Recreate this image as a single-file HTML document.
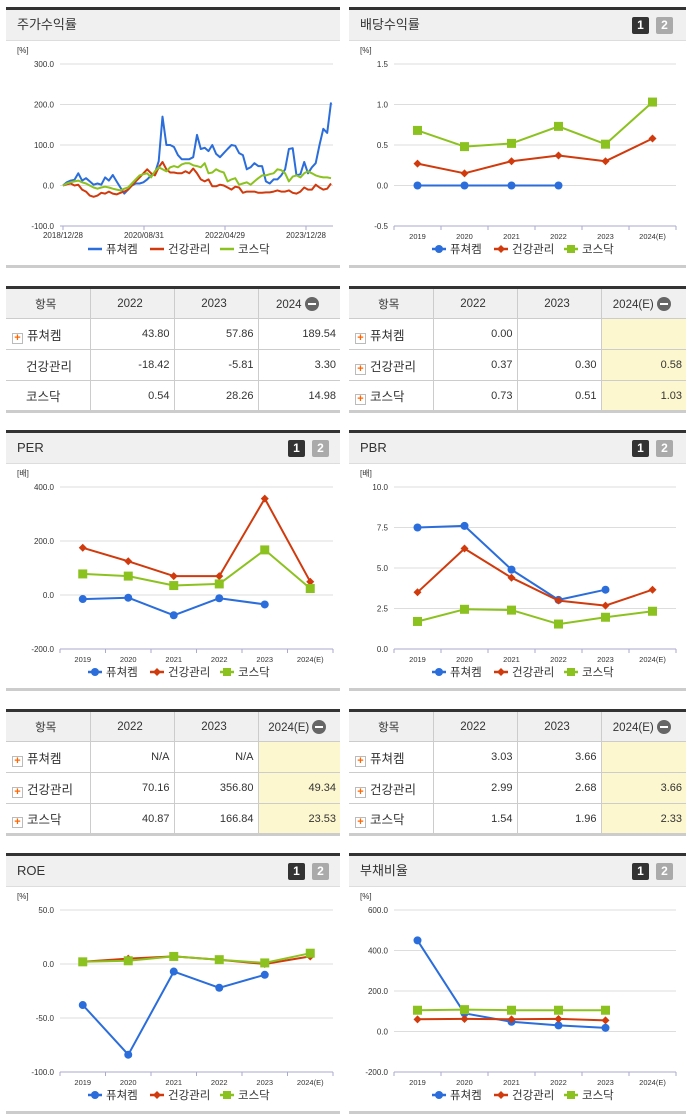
<!DOCTYPE html>
<html><head><meta charset="utf-8">
<style>
*{box-sizing:border-box;margin:0;padding:0}
body{width:691px;height:1115px;background:#fff;position:relative;overflow:hidden;font-family:"Liberation Sans","Noto Sans CJK KR",sans-serif;color:#333}
.panel{position:absolute;border-top:3px solid #333;border-bottom:3px solid #ccc}
.hdr{height:31px;background:#f0f0f0;border-bottom:1px solid #ddd;font-size:13px;line-height:30px;padding-left:11px;position:relative}
.btn{position:absolute;top:7px;width:17px;height:17px;font-size:12px;font-weight:bold;color:#fff;text-align:center;line-height:17px;border-radius:2px}
.b1{background:#333}.b2{background:#aaa}
table{position:absolute;border-collapse:collapse;border-top:3px solid #333;border-bottom:3px solid #ccc;font-size:11px;table-layout:fixed}
td,th{border:1px solid #ccc;height:31px;padding-right:4px;text-align:right;font-weight:normal}
tr td:first-child,tr th:first-child{border-left:none;text-align:left;padding-left:6px}
tr td:last-child,tr th:last-child{border-right:none}
th{background:#f0f0f0;text-align:center!important;font-size:11.5px}
th:first-child{padding-left:0!important}
td:first-child{font-size:12.5px}
.y{background:#fdf7cf}
.pl{display:inline-block;width:11px;height:11px;border:1px solid #bbb;background:#fff;color:#f60;font-size:11px;line-height:9px;text-align:center;font-weight:bold;margin-right:4px;vertical-align:-1px}
.mi{display:inline-block;width:14px;height:14px;border-radius:7px;background:#666;vertical-align:-3px;margin-left:3px;position:relative}
.mi:after{content:"";position:absolute;left:3px;top:6px;width:8px;height:2px;background:#fff}
svg{position:absolute;left:0;top:32px}
</style></head><body>

<div class="panel" style="left:6px;top:7px;width:334px;height:261px">
 <div class="hdr">주가수익률</div>
 <svg id="c1" width="334" height="226"></svg>
</div>
<div class="panel" style="left:349px;top:7px;width:337px;height:261px">
 <div class="hdr">배당수익률<span class="btn b1" style="left:283px">1</span><span class="btn b2" style="left:307px">2</span></div>
 <svg id="c2" width="337" height="226"></svg>
</div>

<table style="left:6px;top:286px;width:334px">
<colgroup><col style="width:84px"><col style="width:84px"><col style="width:84px"><col></colgroup>
<tr><th>항목</th><th>2022</th><th>2023</th><th>2024<span class="mi"></span></th></tr>
<tr><td><span class="pl">+</span>퓨쳐켐</td><td>43.80</td><td>57.86</td><td>189.54</td></tr>
<tr><td style="padding-left:20px">건강관리</td><td>-18.42</td><td>-5.81</td><td>3.30</td></tr>
<tr><td style="padding-left:20px">코스닥</td><td>0.54</td><td>28.26</td><td>14.98</td></tr>
</table>
<table style="left:349px;top:286px;width:337px">
<colgroup><col style="width:84px"><col style="width:84px"><col style="width:84px"><col></colgroup>
<tr><th>항목</th><th>2022</th><th>2023</th><th>2024(E)<span class="mi"></span></th></tr>
<tr><td><span class="pl">+</span>퓨쳐켐</td><td>0.00</td><td></td><td class="y"></td></tr>
<tr><td><span class="pl">+</span>건강관리</td><td>0.37</td><td>0.30</td><td class="y">0.58</td></tr>
<tr><td><span class="pl">+</span>코스닥</td><td>0.73</td><td>0.51</td><td class="y">1.03</td></tr>
</table>

<div class="panel" style="left:6px;top:430px;width:334px;height:261px">
 <div class="hdr">PER<span class="btn b1" style="left:282px">1</span><span class="btn b2" style="left:306px">2</span></div>
 <svg id="c3" width="334" height="226"></svg>
</div>
<div class="panel" style="left:349px;top:430px;width:337px;height:261px">
 <div class="hdr">PBR<span class="btn b1" style="left:283px">1</span><span class="btn b2" style="left:307px">2</span></div>
 <svg id="c4" width="337" height="226"></svg>
</div>

<table style="left:6px;top:709px;width:334px">
<colgroup><col style="width:84px"><col style="width:84px"><col style="width:84px"><col></colgroup>
<tr><th>항목</th><th>2022</th><th>2023</th><th>2024(E)<span class="mi"></span></th></tr>
<tr><td><span class="pl">+</span>퓨쳐켐</td><td>N/A</td><td>N/A</td><td class="y"></td></tr>
<tr><td><span class="pl">+</span>건강관리</td><td>70.16</td><td>356.80</td><td class="y">49.34</td></tr>
<tr><td><span class="pl">+</span>코스닥</td><td>40.87</td><td>166.84</td><td class="y">23.53</td></tr>
</table>
<table style="left:349px;top:709px;width:337px">
<colgroup><col style="width:84px"><col style="width:84px"><col style="width:84px"><col></colgroup>
<tr><th>항목</th><th>2022</th><th>2023</th><th>2024(E)<span class="mi"></span></th></tr>
<tr><td><span class="pl">+</span>퓨쳐켐</td><td>3.03</td><td>3.66</td><td class="y"></td></tr>
<tr><td><span class="pl">+</span>건강관리</td><td>2.99</td><td>2.68</td><td class="y">3.66</td></tr>
<tr><td><span class="pl">+</span>코스닥</td><td>1.54</td><td>1.96</td><td class="y">2.33</td></tr>
</table>

<div class="panel" style="left:6px;top:853px;width:334px;height:261px">
 <div class="hdr">ROE<span class="btn b1" style="left:282px">1</span><span class="btn b2" style="left:306px">2</span></div>
 <svg id="c5" width="334" height="226"></svg>
</div>
<div class="panel" style="left:349px;top:853px;width:337px;height:261px">
 <div class="hdr">부채비율<span class="btn b1" style="left:283px">1</span><span class="btn b2" style="left:307px">2</span></div>
 <svg id="c6" width="337" height="226"></svg>
</div>

<script>
const seriesNames=["퓨쳐켐","건강관리","코스닥"];
const years=["2019","2020","2021","2022","2023","2024(E)"];
// stock return (weekly-ish samples)
const stockDates=["2018/12/28","2020/08/31","2022/04/29","2023/12/28"];
const stockBlue=[0,8,12,14,30,12,18,10,2,5,2,20,12,26,10,-5,-20,-10,0,5,5,8,15,25,30,60,170,100,100,95,75,65,65,65,70,125,90,93,85,100,78,70,80,90,100,98,80,75,40,45,55,48,48,10,5,15,15,25,40,90,92,25,28,58,30,45,55,100,140,130,205];
const stockRed=[0,3,5,0,2,-10,-15,-25,-28,-25,-18,-20,-15,-20,-22,-18,-15,-10,0,10,20,30,40,30,25,45,58,40,32,32,30,30,35,30,42,30,15,10,15,-2,-2,2,0,-5,-10,-3,-5,-18,-15,-15,-15,-18,-18,-17,-17,-15,-12,-15,-15,-12,-18,-20,-15,-5,-10,-10,2,-5,-10,-8,5];
const stockGreen=[0,5,8,10,12,8,5,0,-5,-8,-5,-3,-5,-8,-10,-12,-8,-5,5,15,25,28,30,20,35,45,40,35,45,48,45,52,55,55,50,48,45,55,30,32,40,35,32,10,15,18,2,5,8,2,10,18,25,25,28,30,40,38,30,10,22,25,20,30,35,30,25,22,20,20,18];
const stockTicks=["300.0","200.0","100.0","0.0","-100.0"];
// dividend
const divBlue=[0,0,0,0,null,null];
const divRed=[0.27,0.15,0.30,0.37,0.30,0.58];
const divGreen=[0.68,0.48,0.52,0.73,0.51,1.03];
const divTicks=["1.5","1.0","0.5","0.0","-0.5"];
// PER
const perBlue=[-15,-10,-75,-12,-35,null];
const perRed=[175,125,70,70,357,49];
const perGreen=[78,70,35,41,167,24];
const perTicks=["400.0","200.0","0.0","-200.0"];
// PBR
const pbrBlue=[7.5,7.6,4.9,3.03,3.66,null];
const pbrRed=[3.5,6.2,4.4,2.99,2.68,3.66];
const pbrGreen=[1.7,2.45,2.4,1.54,1.96,2.33];
const pbrTicks=["10.0","7.5","5.0","2.5","0.0"];
// ROE
const roeBlue=[-38,-84,-7,-22,-10,null];
const roeRed=[2,5,7,4,0,7];
const roeGreen=[2,3,7,4,1,10];
const roeTicks=["50.0","0.0","-50.0","-100.0"];
// debt ratio
const debtBlue=[450,90,48,30,18,null];
const debtRed=[60,62,60,62,55,null];
const debtGreen=[105,108,105,105,105,null];
const debtTicks=["600.0","400.0","200.0","0.0","-200.0"];

const COL=["#2a6ddb","#d03a0c","#8cc21f"];
const NS="http://www.w3.org/2000/svg";
function mk(svg,tag,a,txt){const e=document.createElementNS(NS,tag);for(const k in a)e.setAttribute(k,a[k]);if(txt!==undefined)e.textContent=txt;svg.appendChild(e);return e;}

function chart(id,unit,ticks,series,opts){
  const svg=document.getElementById(id);
  const x0=opts.x0,x1=opts.x1,yT=22,yB=184;
  const vmax=parseFloat(ticks[0]),vmin=parseFloat(ticks[ticks.length-1]);
  const Y=v=>yB-(v-vmin)/(vmax-vmin)*(yB-yT);
  let t=mk(svg,'text',{x:opts.ux,y:11,'font-size':8,fill:'#333'},unit);
  
  ticks.forEach(s=>{const v=parseFloat(s),y=Y(v);
    let g=mk(svg,'line',{x1:x0,x2:x1,y1:y,y2:y,stroke:'#ddd','stroke-width':1});
    
    let l=mk(svg,'text',{x:x0-6,y:y+3,'font-size':8,'text-anchor':'end',fill:'#333'},s);
    });
  let ax=mk(svg,'line',{x1:x0,x2:x1,y1:yB,y2:yB,stroke:'#aac',"stroke-width":1});
  
  let X;
  if(opts.time){
    const n=series[0].length;X=i=>x0+3+i*(x1-x0-5)/(n-1);
    opts.labels.forEach((s,i)=>{const xx=x0+3+i*81;
      mk(svg,'line',{x1:xx,x2:xx,y1:yB,y2:yB+4,stroke:'#aac'});
      let l=mk(svg,'text',{x:xx,y:yB+12,'font-size':8,'text-anchor':'middle',fill:'#333'},s);
      });
  } else {
    const bw=(x1-x0)/years.length;X=i=>x0+bw*(i+0.5);
    for(let i=0;i<=years.length;i++)mk(svg,'line',{x1:x0+bw*i,x2:x0+bw*i,y1:yB,y2:yB+4,stroke:'#aac'});
    years.forEach((s,i)=>{let l=mk(svg,'text',{x:X(i),y:yB+13,'font-size':7.5,'text-anchor':'middle',fill:'#333'},s);
      });
  }
  series.forEach((d,si)=>{
    let pts=[];d.forEach((v,i)=>{if(v!==null)pts.push(X(i).toFixed(1)+','+Y(v).toFixed(1));});
    let p=mk(svg,'polyline',{points:pts.join(' '),fill:'none',stroke:COL[si],'stroke-width':2,'stroke-linejoin':'round'});
    
    if(!opts.time)d.forEach((v,i)=>{if(v===null)return;const x=X(i),y=Y(v);let m;
      if(si==0)m=mk(svg,'circle',{cx:x,cy:y,r:4,fill:COL[0]});
      else if(si==1)m=mk(svg,'path',{d:`M${x} ${y-4}L${x+4} ${y}L${x} ${y+4}L${x-4} ${y}Z`,fill:COL[1]});
      else m=mk(svg,'rect',{x:x-4.5,y:y-4.5,width:9,height:9,fill:COL[2]});
      });
  });
  // legend
  const lx=opts.lx,ly=yB+27;const offs=[0,62,132];
  seriesNames.forEach((s,si)=>{const x=lx+offs[si];
    mk(svg,'line',{x1:x,x2:x+14,y1:ly-4,y2:ly-4,stroke:COL[si],'stroke-width':2.5});
    if(!opts.time){if(si==0)mk(svg,'circle',{cx:x+7,cy:ly-4,r:4,fill:COL[0]});
      else if(si==1)mk(svg,'path',{d:`M${x+7} ${ly-8}L${x+11} ${ly-4}L${x+7} ${ly}L${x+3} ${ly-4}Z`,fill:COL[1]});
      else mk(svg,'rect',{x:x+3,y:ly-8,width:8,height:8,fill:COL[2]});}
    let l=mk(svg,'text',{x:x+18,y:ly,'font-size':11.5,fill:'#333'},s);
    });
}
chart('c1','[%]',stockTicks,[stockBlue,stockRed,stockGreen],{x0:54,x1:327,ux:11,time:true,labels:stockDates,lx:82});
chart('c2','[%]',divTicks,[divBlue,divRed,divGreen],{x0:45,x1:327,ux:11,lx:83});
chart('c3','[배]',perTicks,[perBlue,perRed,perGreen],{x0:54,x1:327,ux:11,lx:82});
chart('c4','[배]',pbrTicks,[pbrBlue,pbrRed,pbrGreen],{x0:45,x1:327,ux:11,lx:83});
chart('c5','[%]',roeTicks,[roeBlue,roeRed,roeGreen],{x0:54,x1:327,ux:11,lx:82});
chart('c6','[%]',debtTicks,[debtBlue,debtRed,debtGreen],{x0:45,x1:327,ux:11,lx:83});
</script>
</body></html>
